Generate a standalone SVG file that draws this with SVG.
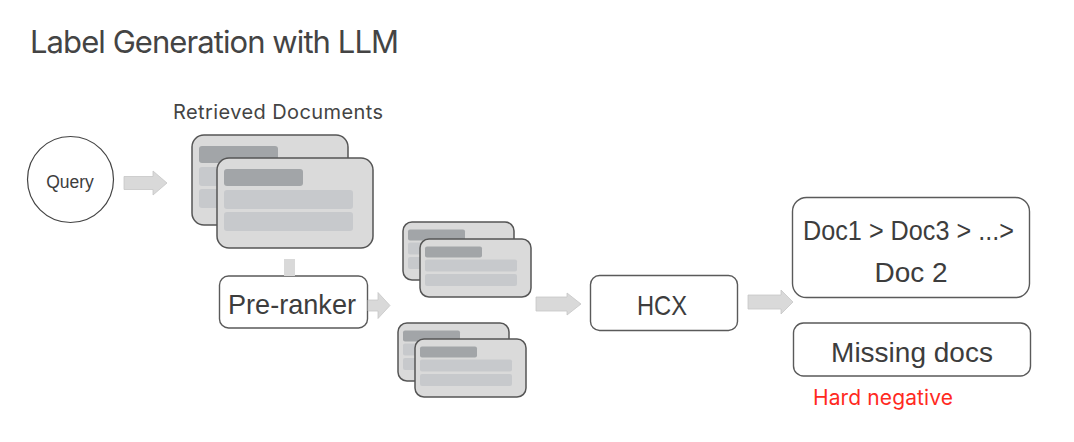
<svg xmlns="http://www.w3.org/2000/svg" xmlns:xlink="http://www.w3.org/1999/xlink" width="1074" height="442" viewBox="0 0 1074 442">
<style>
.t{font-family:"Liberation Sans",Arial,sans-serif;fill:#3d3d3d}
.ti{font-family:Inter,"Liberation Sans",sans-serif;fill:#444}
.box{fill:#fff;stroke:#5a5a5a;stroke-width:1.4}
.card{fill:#dadada;stroke:#555;stroke-width:1.5}
.dk{fill:#a2a5a8}
.lt{fill:#c7c9cc}
.arr{fill:#d9d9d9;stroke:#c6c6c6;stroke-width:0.8}
</style>
<defs>
<g id="bigcard">
<rect class="card" x="0" y="0" width="156" height="90" rx="12"/>
<rect class="dk" x="7" y="11" width="79" height="17" rx="3"/>
<rect class="lt" x="7" y="32" width="129" height="19" rx="3"/>
<rect class="lt" x="7" y="54" width="129" height="19" rx="3"/>
</g>
<g id="smallcard">
<rect class="card" x="0" y="0" width="111" height="58" rx="9"/>
<rect class="dk" x="5" y="7.5" width="57" height="11" rx="2"/>
<rect class="lt" x="5" y="20.5" width="92" height="12" rx="2"/>
<rect class="lt" x="5" y="35" width="92" height="12" rx="2"/>
</g>
</defs>
<rect width="1074" height="442" fill="#fff"/>
<text class="ti" x="30" y="53" font-size="31" textLength="369">Label Generation with LLM</text>

<g id="query">
<circle cx="70.5" cy="179.5" r="43" fill="#fff" stroke="#444" stroke-width="1.2"/>
<text class="t" x="70" y="188" font-size="17.5" text-anchor="middle">Query</text>
</g>

<g id="retrieved">
<text class="ti" x="173" y="119" font-size="20" textLength="210">Retrieved Documents</text>
<use xlink:href="#bigcard" x="192" y="135"/>
<use xlink:href="#bigcard" x="217" y="158"/>
</g>

<g id="preranker">
<rect class="box" x="219.5" y="276" width="148" height="52" rx="9"/>
<text class="t" x="228" y="314" font-size="28" textLength="128" lengthAdjust="spacingAndGlyphs">Pre-ranker</text>
</g>

<g id="subset1">
<use xlink:href="#smallcard" x="403" y="222"/>
<use xlink:href="#smallcard" x="420" y="239"/>
</g>
<g id="subset2">
<use xlink:href="#smallcard" x="398" y="323"/>
<use xlink:href="#smallcard" x="415" y="339"/>
</g>

<g id="hcx">
<rect class="box" x="590.5" y="275.5" width="147" height="55" rx="9"/>
<text class="t" x="637" y="315" font-size="28" textLength="50" lengthAdjust="spacingAndGlyphs">HCX</text>
</g>

<g id="ranking">
<rect class="box" x="792.5" y="197.5" width="237" height="100" rx="14"/>
<text class="t" x="803" y="240" font-size="28" textLength="211" lengthAdjust="spacingAndGlyphs">Doc1 &gt; Doc3 &gt; ...&gt;</text>
<text class="t" x="911" y="281.5" font-size="28" text-anchor="middle">Doc 2</text>
</g>

<g id="missing">
<rect class="box" x="793.5" y="323" width="237" height="53" rx="10"/>
<text class="t" x="912" y="362" font-size="28" text-anchor="middle">Missing docs</text>
<text x="813" y="405" font-size="21" font-family="Inter,'Liberation Sans',sans-serif" fill="#ff2a1f" textLength="140">Hard negative</text>
</g>

<g id="connectors">
<path class="arr" d="M124 176.5 H153 V171 L167 183 L153 195 V189.5 H124 Z"/>
<rect x="284" y="259" width="11" height="17" fill="#d9d9d9"/>
<path class="arr" d="M368 300 H378 V292.5 L390 305.5 L378 318.5 V311 H368 Z"/>
<path class="arr" d="M536 297 H567 V293 L581 304 L567 315 V311 H536 Z"/>
<path class="arr" d="M748 295 H781 V290 L793 302 L781 314 V309 H748 Z"/>
</g>
</svg>
